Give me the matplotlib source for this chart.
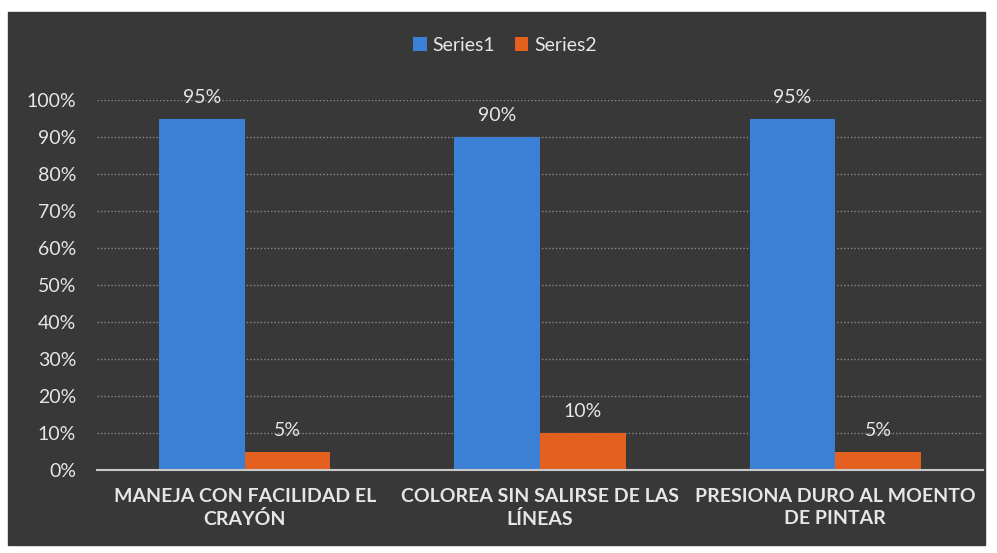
import numpy as np
import matplotlib
matplotlib.use('Agg')
import matplotlib.pyplot as plt
from matplotlib.patches import Rectangle

categories = ['MANEJA CON FACILIDAD EL\nCRAYÓN',
              'COLOREA SIN SALIRSE DE LAS\nLÍNEAS',
              'PRESIONA DURO AL MOENTO\nDE PINTAR']
series1 = [0.95, 0.90, 0.95]
series2 = [0.05, 0.10, 0.05]
series_names = ['Series1', 'Series2']

plt.rcParams['font.family'] = ['Lato', 'DejaVu Sans']
txt = '#e6e6e6'
fs = 14

fig = plt.figure(figsize=(9.97, 5.53), dpi=100)
fig.patch.set_facecolor('white')
fig.patches.append(Rectangle((8/997, 1-545/553), 977/997, 533/553,
                             transform=fig.transFigure, color='#383838', zorder=-5))

ax = fig.add_axes([97/997, 1-470/553, 886/997, 370/553])
ax.set_facecolor('none')
ax.set_zorder(2)

x = np.arange(len(categories))
w = 0.29
b1 = ax.bar(x - w/2, series1, w, color='#3c80d6', label=series_names[0], zorder=3)
b2 = ax.bar(x + w/2, series2, w, color='#e4601e', label=series_names[1], zorder=3)

for bars, vals in ((b1, series1), (b2, series2)):
    for r, v in zip(bars, vals):
        ax.text(r.get_x() + r.get_width()/2, v + 0.035, f'{v:.0%}',
                ha='center', va='bottom', color=txt, fontsize=fs)

ax.set_xlim(-0.5, 2.5)
ax.set_ylim(0, 1)
ax.set_yticks(np.arange(0, 1.01, 0.1))
ax.set_yticklabels([f'{int(round(t*100))}%' for t in np.arange(0, 1.01, 0.1)])
ax.set_xticks(x)
ax.set_xticklabels(categories, fontweight='bold', fontsize=fs, linespacing=1.35)
ax.tick_params(axis='both', colors=txt, length=0, labelsize=fs)
ax.tick_params(axis='x', pad=13)
ax.tick_params(axis='y', pad=15)
ax.yaxis.grid(True, color='#8a8a8a', linestyle=(0, (1, 1.5)), linewidth=1, zorder=0)
for s in ('top', 'right', 'left'):
    ax.spines[s].set_visible(False)
ax.spines['bottom'].set_color('#c8c8c8')
ax.spines['bottom'].set_linewidth(1.5)
ax.spines['bottom'].set_zorder(4)

leg = fig.legend(loc='center', bbox_to_anchor=(505/997, 1-45/553), ncol=2,
                 frameon=False, fontsize=fs, handlelength=0.7, handleheight=0.7,
                 handletextpad=0.3, columnspacing=1.0)
for t in leg.get_texts():
    t.set_color(txt)

plt.savefig('out.png', dpi=100)
